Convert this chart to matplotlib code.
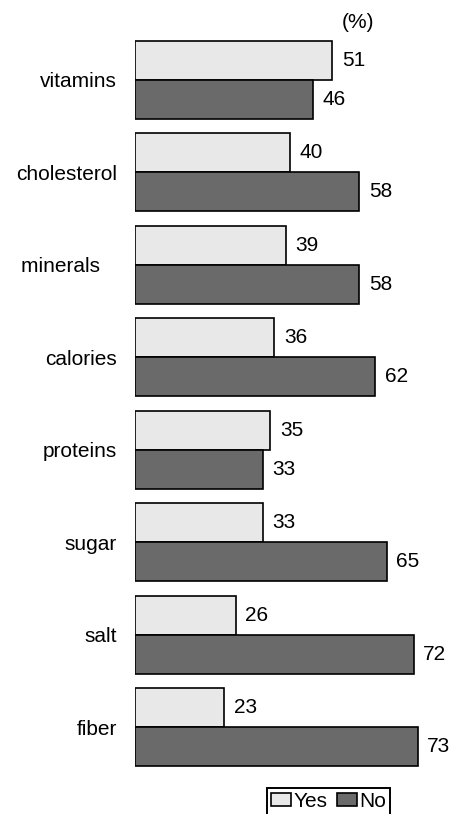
import matplotlib.pyplot as plt
import numpy as np

plt.rcParams['font.family'] = ['Liberation Sans', 'DejaVu Sans']

# data
categories = ['vitamins', 'cholesterol', 'minerals   ', 'calories', 'proteins', 'sugar', 'salt', 'fiber']
yes_vals = [51, 40, 39, 36, 35, 33, 26, 23]
no_vals = [46, 58, 58, 62, 33, 65, 72, 73]

yes_color = '#e8e8e8'
no_color = '#6a6a6a'
fs = 15

fig = plt.figure(figsize=(4.59, 8.14), dpi=100)
ax = fig.add_axes([135 / 459, 1 - 773.6 / 814, 309.6 / 459, 740 / 814])

y = np.arange(len(categories))
h = 0.423

ax.barh(y - h / 2, yes_vals, height=h, color=yes_color, edgecolor='black', linewidth=1.2, label='Yes')
ax.barh(y + h / 2, no_vals, height=h, color=no_color, edgecolor='black', linewidth=1.2, label='No')

# value labels
for i in range(len(categories)):
    ax.annotate(str(yes_vals[i]), (yes_vals[i], y[i] - h / 2), xytext=(7, 0),
                textcoords='offset points', va='center', ha='left', fontsize=fs)
    ax.annotate(str(no_vals[i]), (no_vals[i], y[i] + h / 2), xytext=(7, 0),
                textcoords='offset points', va='center', ha='left', fontsize=fs)

ax.set_xlim(0, 80)
ax.set_ylim(7.5, -0.5)
ax.set_yticks(y)
ax.set_yticklabels(categories, fontsize=fs)
ax.tick_params(axis='y', length=0, pad=13)
ax.set_xticks([])
for s in ax.spines.values():
    s.set_visible(False)

fig.text(358 / 459, 1 - 22.7 / 814, '(%)', ha='center', va='center', fontsize=fs)

leg = fig.legend(loc='upper left', bbox_to_anchor=(267 / 459, 1 - 788 / 814), ncol=2,
                 fontsize=fs, frameon=True, fancybox=False, framealpha=1,
                 handlelength=0.95, handleheight=0.6, handletextpad=0.1,
                 columnspacing=0.5, borderpad=0.2, borderaxespad=0)
leg.get_frame().set_edgecolor('black')
leg.get_frame().set_linewidth(1.4)

fig.savefig('out.png', dpi=100)
